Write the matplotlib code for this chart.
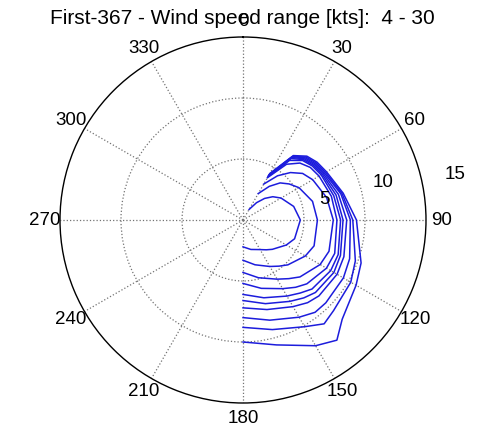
import numpy as np
import matplotlib
matplotlib.use('Agg')
import matplotlib.pyplot as plt

plt.rcParams['font.family'] = ['Liberation Sans', 'DejaVu Sans']

# true wind speeds [kts]
tws = [4, 6, 8, 10, 12, 14, 16, 20, 25, 30]
# true wind angles [deg]
twa = [30, 38, 45, 52, 60, 75, 90, 110, 120, 135, 142, 150, 165, 180]
# boat speed [kts], one row per wind speed
bsp = [
    [1.0, 1.8, 2.5, 3.1, 3.6, 4.3, 4.7, 4.5, 4.1, 3.4, 3.1, 2.8, 2.5, 2.2],
    [2.5, 3.5, 4.3, 4.8, 5.3, 5.9, 6.1, 6.2, 5.9, 5.2, 4.8, 4.4, 3.8, 3.3],
    [3.4, 4.6, 5.5, 6.2, 6.6, 7.1, 7.4, 7.5, 7.3, 6.6, 6.1, 5.6, 4.9, 4.3],
    [4.0, 5.8, 6.6, 7.0, 7.2, 7.5, 7.7, 8.0, 7.9, 7.4, 7.0, 6.5, 5.8, 5.2],
    [4.1, 6.2, 6.9, 7.2, 7.4, 7.7, 8.0, 8.3, 8.3, 8.0, 7.6, 7.2, 6.6, 6.1],
    [4.2, 6.4, 7.0, 7.3, 7.5, 7.9, 8.2, 8.5, 8.6, 8.4, 8.1, 7.7, 7.1, 6.6],
    [4.2, 6.5, 7.1, 7.4, 7.6, 8.1, 8.5, 8.8, 8.9, 8.8, 8.6, 8.2, 7.6, 7.2],
    [4.3, 6.6, 7.2, 7.5, 7.7, 8.3, 8.8, 9.3, 9.5, 9.6, 9.6, 9.2, 8.5, 8.0],
    [4.3, 6.6, 7.3, 7.6, 7.8, 8.4, 9.0, 9.8, 10.2, 10.5, 10.8, 10.1, 9.3, 8.8],
    [4.4, 6.7, 7.4, 7.7, 7.9, 8.5, 9.3, 10.3, 10.7, 11.5, 12.5, 11.9, 10.6, 10.0],
]

ring_values = [5, 10, 15]
angle_labels = list(range(0, 360, 30))
rmax = 15

fig = plt.figure(figsize=(4.84, 4.36), dpi=100)
ax = fig.add_axes([60 / 484, 33 / 436, 366 / 484, 366 / 436], projection='polar')
ax.set_theta_zero_location('N')
ax.set_theta_direction(-1)
ax.set_ylim(0, rmax)

# dotted grid like matlab polar()
ax.set_rgrids([5, 10], labels=['', ''])
ax.set_thetagrids(angle_labels, labels=[''] * len(angle_labels))
ax.grid(True, linestyle=':', color='0.45', linewidth=0.9)
ax.tick_params(length=0)
ax.spines['polar'].set_color('black')
ax.spines['polar'].set_linewidth(1.0)

th = np.deg2rad(twa)
for row in bsp:
    ax.plot(th, row, color='#1c1cdc', linewidth=1.1)

for a in angle_labels:
    ax.text(np.deg2rad(a), rmax * 1.085, str(a), ha='center', va='center', fontsize=13.5)

ring_pos = [(76, 6.9), (75, 11.9), (78, 17.8)]
for v, (a, r) in zip(ring_values, ring_pos):
    ax.text(np.deg2rad(a), r, str(v), ha='center', va='center', fontsize=13.5)

fig.text(0.5, 1 - 18 / 436, 'First-367 - Wind speed range [kts]:  4 - 30',
         ha='center', va='center', fontsize=15)

fig.savefig('out.png', dpi=100)
